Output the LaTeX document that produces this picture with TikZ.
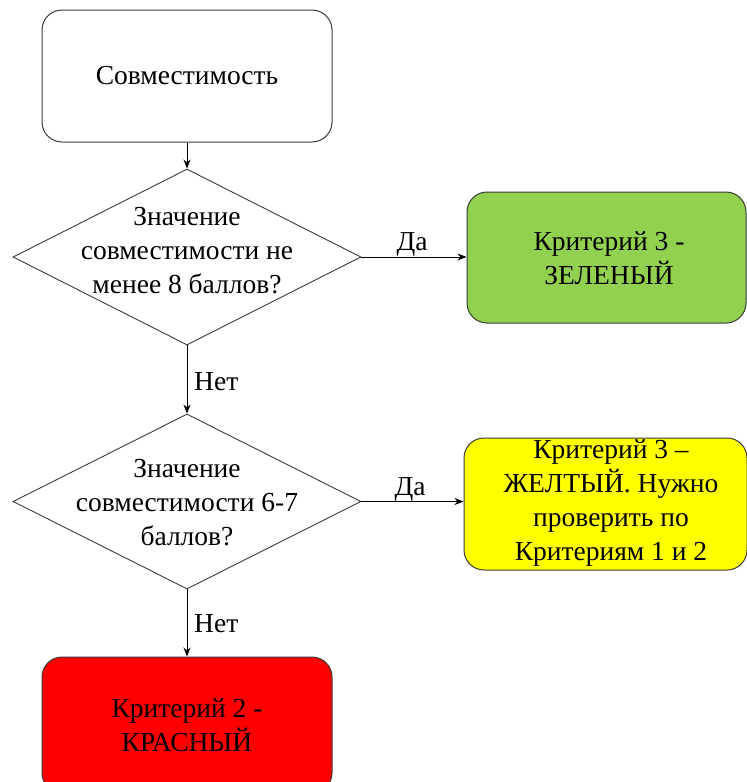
\documentclass[tikz,border=0pt]{standalone}
\usepackage{fontspec}
\setmainfont{Liberation Serif}
\usetikzlibrary{shapes.geometric,arrows.meta}
\definecolor{edge}{HTML}{3A3A3A}
\definecolor{cgreen}{HTML}{92D050}
\definecolor{cyellow}{HTML}{FFFF00}
\definecolor{cred}{HTML}{FF0000}
\begin{document}
\begin{tikzpicture}[x=1pt,y=-1pt,
  box/.style={draw=edge,line width=1pt,rounded corners=20pt,inner sep=0pt,
    align=center,font=\fontsize{27.5}{33.5}\selectfont},
  decision/.style={draw=edge,line width=0.9pt,diamond,inner sep=0pt},
  txt/.style={align=center,inner sep=0pt,font=\fontsize{27.5}{34}\selectfont},
  lbl/.style={inner sep=0pt,font=\fontsize{27.5}{30}\selectfont},
  arr/.style={-{Stealth[length=9pt,width=7pt]},line width=0.9pt,black}]
\useasboundingbox (0,0) rectangle (747,782);
\clip (0,0) rectangle (747,782);
\node[box,minimum width=290pt,minimum height=132pt] (start) at (187,76) {Совместимость};
\node[decision,minimum width=348pt,minimum height=176pt] (d1) at (187,257) {};
\node[txt] (d1t) at (187,251) {Значение\\совместимости не\\менее 8 баллов?};
\node[box,fill=cgreen,minimum width=279pt,minimum height=131pt] (green) at (606.5,257.5) {};
\node[txt] (greent) at (609,258) {Критерий 3 -\\ЗЕЛЕНЫЙ};
\node[decision,minimum width=348pt,minimum height=175pt] (d2) at (187,501.5) {};
\node[txt] (d2t) at (187,503) {Значение\\совместимости 6-7\\баллов?};
\node[box,fill=cyellow,minimum width=283pt,minimum height=132pt] (yellow) at (605.5,504) {};
\node[txt] (yellowt) at (611,503) {Критерий 3 –\\ЖЕЛТЫЙ. Нужно\\проверить по\\Критериям 1 и 2};
\node[box,fill=cred,minimum width=290pt,minimum height=136pt] (red) at (187,725) {Критерий 2 -\\КРАСНЫЙ};
\draw[arr] (start.south) -- (d1.north);
\draw[arr] (d1.east) -- (green.west |- d1.east);
\draw[arr] (d1.south) -- (d2.north);
\draw[arr] (d2.east) -- (yellow.west |- d2.east);
\draw[arr] (d2.south) -- (red.north);
\node[lbl,anchor=base] (yes1) at (412,250) {Да};
\node[lbl,anchor=base] (yes2) at (410,495) {Да};
\node[lbl,anchor=base west] (no1) at (194,390) {Нет};
\node[lbl,anchor=base west] (no2) at (194,632) {Нет};
\end{tikzpicture}
\end{document}
